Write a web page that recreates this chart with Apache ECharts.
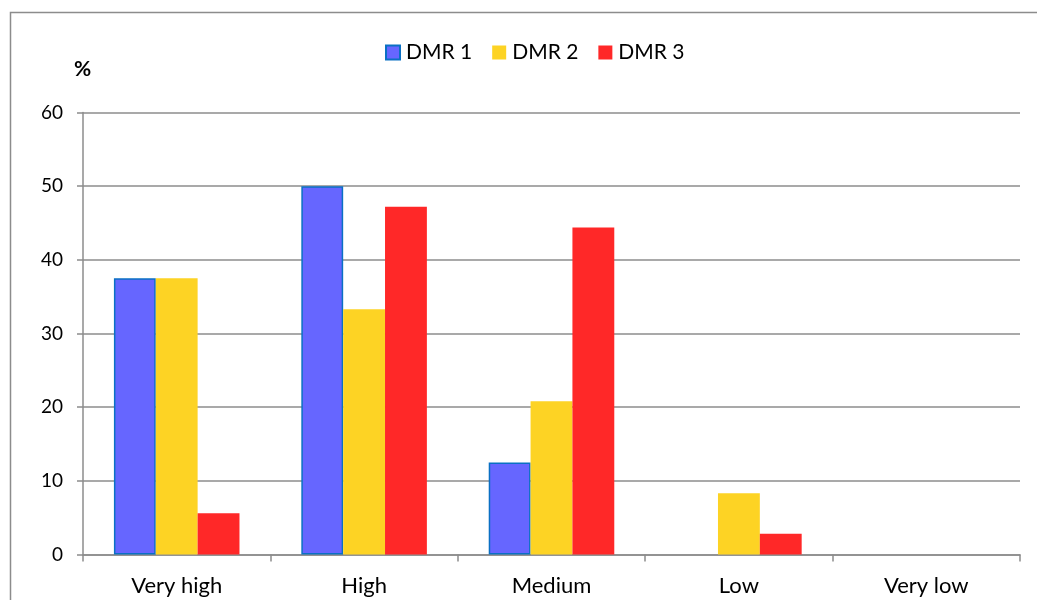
<!DOCTYPE html>
<html>
<head>
<meta charset="utf-8">
<script src="https://cdn.jsdelivr.net/npm/echarts@6/dist/echarts.min.js"></script>
<style>
  html, body { margin: 0; padding: 0; background: #fff; }
  #chart { width: 1037px; height: 600px; }
</style>
</head>
<body>
<div id="chart"></div>
<script>
// Share of sites per risk class, by DMR (percent)
const categories = ['Very high', 'High', 'Medium', 'Low', 'Very low'];
const dmr1 = [37.5, 50.0, 12.5, 0, 0];
const dmr2 = [37.5, 33.3, 20.8, 8.3, 0];
const dmr3 = [5.6, 47.2, 44.4, 2.8, 0];
const seriesNames = ['DMR 1', 'DMR 2', 'DMR 3'];
const yTicks = { min: 0, max: 60, interval: 10 };

const FONT = 'Lato, Open Sans, sans-serif';
// empty classes draw no bar at all (not even an outline)
const bars = arr => arr.map(v => (v === 0 ? '-' : v));

const chart = echarts.init(document.getElementById('chart'), null, { renderer: 'canvas' });

chart.setOption({
  animation: false,
  backgroundColor: '#fff',
  graphic: [
    {
      type: 'rect',
      shape: { x: 10.5, y: 12.5, width: 1100, height: 700 },
      style: { fill: 'none', stroke: '#8c8c8c', lineWidth: 1.5 },
      silent: true
    },
    {
      type: 'text',
      left: 74, top: 59,
      style: { text: '%', font: 'bold 21px ' + FONT, fill: '#000' }
    }
  ],
  legend: {
    data: seriesNames,
    top: 37,
    left: 380,
    itemWidth: 14,
    itemHeight: 14,
    itemGap: 20,
    icon: 'rect',
    textStyle: { fontFamily: FONT, fontSize: 21, color: '#000', padding: [0, 0, 0, 1] }
  },
  grid: { left: 83, right: 17, top: 112.5, bottom: 45.5, containLabel: false },
  xAxis: {
    type: 'category',
    data: categories,
    axisLine: { show: true, lineStyle: { color: '#8c8c8c', width: 1.5 } },
    axisTick: { show: true, alignWithLabel: false, length: 7, lineStyle: { color: '#8c8c8c', width: 1.5 } },
    axisLabel: { fontFamily: FONT, fontSize: 22, color: '#000', margin: 20 }
  },
  yAxis: {
    type: 'value',
    min: yTicks.min, max: yTicks.max, interval: yTicks.interval,
    axisLine: { show: true, lineStyle: { color: '#8c8c8c', width: 1.5 } },
    axisTick: { show: true, length: 6, lineStyle: { color: '#8c8c8c', width: 1.5 } },
    splitLine: { show: true, lineStyle: { color: '#8c8c8c', width: 1.5 } },
    axisLabel: { fontFamily: FONT, fontSize: 19, color: '#000', margin: 20 }
  },
  series: [
    {
      name: seriesNames[0], type: 'bar', data: bars(dmr1),
      barGap: '0%', barCategoryGap: '33%',
      itemStyle: { color: '#6666ff', borderColor: '#0a70c4', borderWidth: 1.5 }
    },
    {
      name: seriesNames[1], type: 'bar', data: bars(dmr2),
      itemStyle: { color: '#fdd324' }
    },
    {
      name: seriesNames[2], type: 'bar', data: bars(dmr3),
      itemStyle: { color: '#ff2828' }
    }
  ]
});
</script>
</body>
</html>
